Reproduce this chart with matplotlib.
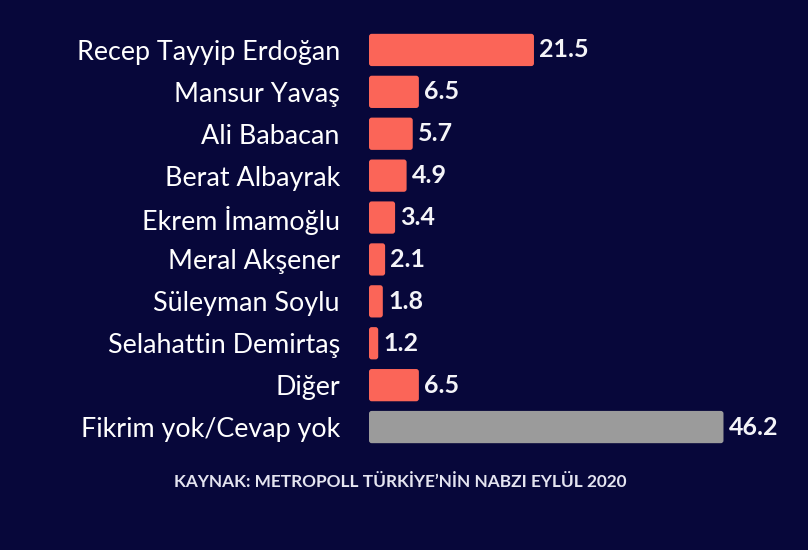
import matplotlib
matplotlib.use("Agg")
import matplotlib.pyplot as plt
from matplotlib.patches import FancyBboxPatch

categories = ["Recep Tayyip Erdoğan", "Mansur Yavaş", "Ali Babacan", "Berat Albayrak",
              "Ekrem İmamoğlu", "Meral Akşener", "Süleyman Soylu", "Selahattin Demirtaş",
              "Diğer", "Fikrim yok/Cevap yok"]
values = [21.5, 6.5, 5.7, 4.9, 3.4, 2.1, 1.8, 1.2, 6.5, 46.2]
value_labels = ["21.5", "6.5", "5.7", "4.9", "3.4", "2.1", "1.8", "1.2", "6.5", "46.2"]
source = "KAYNAK: METROPOLL TÜRKİYE’NİN NABZI EYLÜL 2020"

BG = "#07073a"
SALMON = "#fb6558"
GRAY = "#9b9b9b"

plt.rcParams['font.family'] = ['Lato', 'DejaVu Sans']

fig = plt.figure(figsize=(8.08, 5.5), dpi=100, facecolor=BG)
ax = fig.add_axes([369/808, 1-448/550, 422/808, (448-29)/550])
ax.set_facecolor(BG)

colors = [SALMON]*(len(values)-1) + [GRAY]
ypos = list(range(len(values)))
bars = ax.barh(ypos, values, height=0.77, color=colors, edgecolor='none')
ax.set_xlim(0, 55)
ax.set_ylim(len(values)-0.5, -0.5)

# replace with slightly rounded rectangles
for b, c in zip(bars, colors):
    x0, y0, w, h = b.get_x(), b.get_y(), b.get_width(), b.get_height()
    b.set_visible(False)
    p = FancyBboxPatch((x0, y0), w, h, boxstyle="round,pad=0,rounding_size=0.35",
                       mutation_aspect=0.183, facecolor=c, edgecolor='none')
    ax.add_patch(p)

ax.set_yticks(ypos)
ax.set_yticklabels(categories, color="white", fontsize=19.4)
ax.tick_params(axis='y', length=0, pad=21)
ax.set_xticks([])
for s in ax.spines.values():
    s.set_visible(False)

for y, v, t in zip(ypos, values, value_labels):
    ax.text(v + 0.7, y, t, color="#f4f4f8", fontsize=18, fontweight='bold',
            va='center', ha='left')

fig.text(400/808, 1-482/550, source, color="#e4e4f0", fontsize=12.4,
         fontweight='bold', ha='center', va='center')

fig.savefig("out.png", dpi=100, facecolor=BG)
